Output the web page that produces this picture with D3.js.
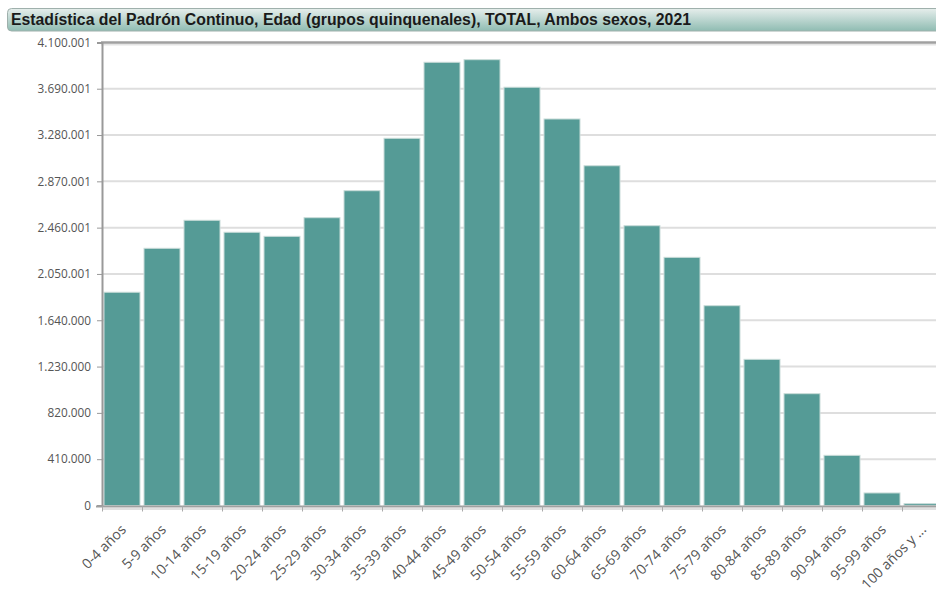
<!DOCTYPE html>
<html>
<head>
<meta charset="utf-8">
<script src="https://cdn.jsdelivr.net/npm/d3@7"></script>
<style>
  body { margin: 0; background: #fff; overflow: hidden; }
  svg { display: block; }
</style>
</head>
<body>
<div id="chart"></div>
<script>
// datos
var categories = ["0-4 años","5-9 años","10-14 años","15-19 años","20-24 años","25-29 años",
  "30-34 años","35-39 años","40-44 años","45-49 años","50-54 años","55-59 años","60-64 años",
  "65-69 años","70-74 años","75-79 años","80-84 años","85-89 años","90-94 años","95-99 años",
  "100 años y ..."];
var values = [1888000, 2277000, 2525000, 2419000, 2383000, 2548000, 2787000, 3251000,
  3924000, 3947000, 3703000, 3422000, 3008000, 2477000, 2197000, 1769000, 1294000,
  990000, 444000, 111000, 16000];
var yTicks = [0, 410000, 820000, 1230000, 1640000, 2050001, 2460001, 2870001, 3280001, 3690001, 4100001];
var title = "Estadística del Padrón Continuo, Edad (grupos quinquenales), TOTAL, Ambos sexos, 2021";

var W = 936, H = 590;
var plotLeft = 102, plotTop = 42.4, plotBottom = 505.5;

var svg = d3.select("#chart").append("svg")
    .attr("width", W)
    .attr("height", H);

var defs = svg.append("defs");
var grad = defs.append("linearGradient").attr("id", "tbar")
    .attr("x1", 0).attr("y1", 0).attr("x2", 0).attr("y2", 1);
grad.append("stop").attr("offset", "0%").attr("stop-color", "#e6eeec");
grad.append("stop").attr("offset", "100%").attr("stop-color", "#8fbcb2");

// barra de titulo
svg.append("rect")
    .attr("x", 7.5).attr("y", 8.5)
    .attr("width", 940).attr("height", 22.5)
    .attr("rx", 4).attr("ry", 4)
    .style("fill", "url(#tbar)")
    .style("stroke", "#9fb0ac");
svg.append("text")
    .attr("x", 11).attr("y", 25)
    .style("font-family", "Liberation Sans, Arial, sans-serif")
    .style("font-weight", "bold")
    .style("font-size", "15.8px")
    .style("fill", "#1a1a1a")
    .text(title);

var locale = d3.formatLocale({decimal: ",", thousands: ".", grouping: [3], currency: ["", "€"]});
var fmt = locale.format(",d");

var x = d3.scaleBand()
    .domain(categories)
    .range([plotLeft, plotLeft + categories.length * 40])
    .paddingInner(0.1)
    .paddingOuter(0.05);

var y = d3.scaleLinear()
    .domain([0, 4100001])
    .range([plotBottom, plotTop]);

// rejilla
svg.append("g").selectAll("line")
    .data(yTicks.slice(1, -1))
    .enter().append("line")
    .attr("x1", plotLeft).attr("x2", W)
    .attr("y1", d => y(d)).attr("y2", d => y(d))
    .style("stroke", "#dedede")
    .style("stroke-width", 2);

// borde superior
svg.append("line")
    .attr("x1", plotLeft - 1).attr("x2", W)
    .attr("y1", plotTop + 2).attr("y2", plotTop + 2)
    .style("stroke", "#e4e4e4").style("stroke-width", 2);
svg.append("line")
    .attr("x1", plotLeft - 1).attr("x2", W)
    .attr("y1", plotTop).attr("y2", plotTop)
    .style("stroke", "#a0a0a0").style("stroke-width", 2.5);

// barras
svg.append("g").selectAll("rect")
    .data(values)
    .enter().append("rect")
    .attr("x", (d, i) => x(categories[i]))
    .attr("width", x.bandwidth())
    .attr("y", d => y(d))
    .attr("height", d => plotBottom - y(d))
    .style("fill", "#559b96")
    .style("stroke", "#c9dcd9")
    .style("stroke-width", 1);

// eje y
var yAxis = svg.append("g")
    .attr("transform", "translate(" + plotLeft + ",0)")
    .call(d3.axisLeft(y).tickValues(yTicks).tickFormat(fmt).tickSize(5).tickPadding(6));
yAxis.select(".domain").style("stroke", "#999").style("stroke-width", 2);
yAxis.selectAll(".tick line").style("stroke", "#999");
yAxis.selectAll("text")
    .style("font-family", "Open Sans, sans-serif")
    .style("font-size", "11.8px")
    .style("fill", "#555");

// eje x
var xb = svg.append("g").attr("transform", "translate(0," + (plotBottom + 1) + ")");
xb.append("line")
    .attr("x1", plotLeft).attr("x2", W)
    .attr("y1", 2.5).attr("y2", 2.5)
    .style("stroke", "#e0e0e0").style("stroke-width", 2);
xb.append("line")
    .attr("x1", plotLeft - 6).attr("x2", W)
    .attr("y1", 0).attr("y2", 0)
    .style("stroke", "#a0a0a0").style("stroke-width", 2);
xb.selectAll(".tk")
    .data(categories)
    .enter().append("line")
    .attr("class", "tk")
    .attr("x1", (d, i) => plotLeft + 0.5 + i * x.step())
    .attr("x2", (d, i) => plotLeft + 0.5 + i * x.step())
    .attr("y1", 0).attr("y2", 5)
    .style("stroke", "#aaa");
xb.selectAll(".lbl")
    .data(categories)
    .enter().append("text")
    .attr("class", "lbl")
    .attr("text-anchor", "end")
    .attr("transform", d => "translate(" + (x(d) + x.bandwidth() / 2 + 5) + ",24) rotate(-45)")
    .style("font-family", "Open Sans, sans-serif")
    .style("font-size", "14px")
    .style("fill", "#555")
    .text(d => d);
</script>
</body>
</html>
